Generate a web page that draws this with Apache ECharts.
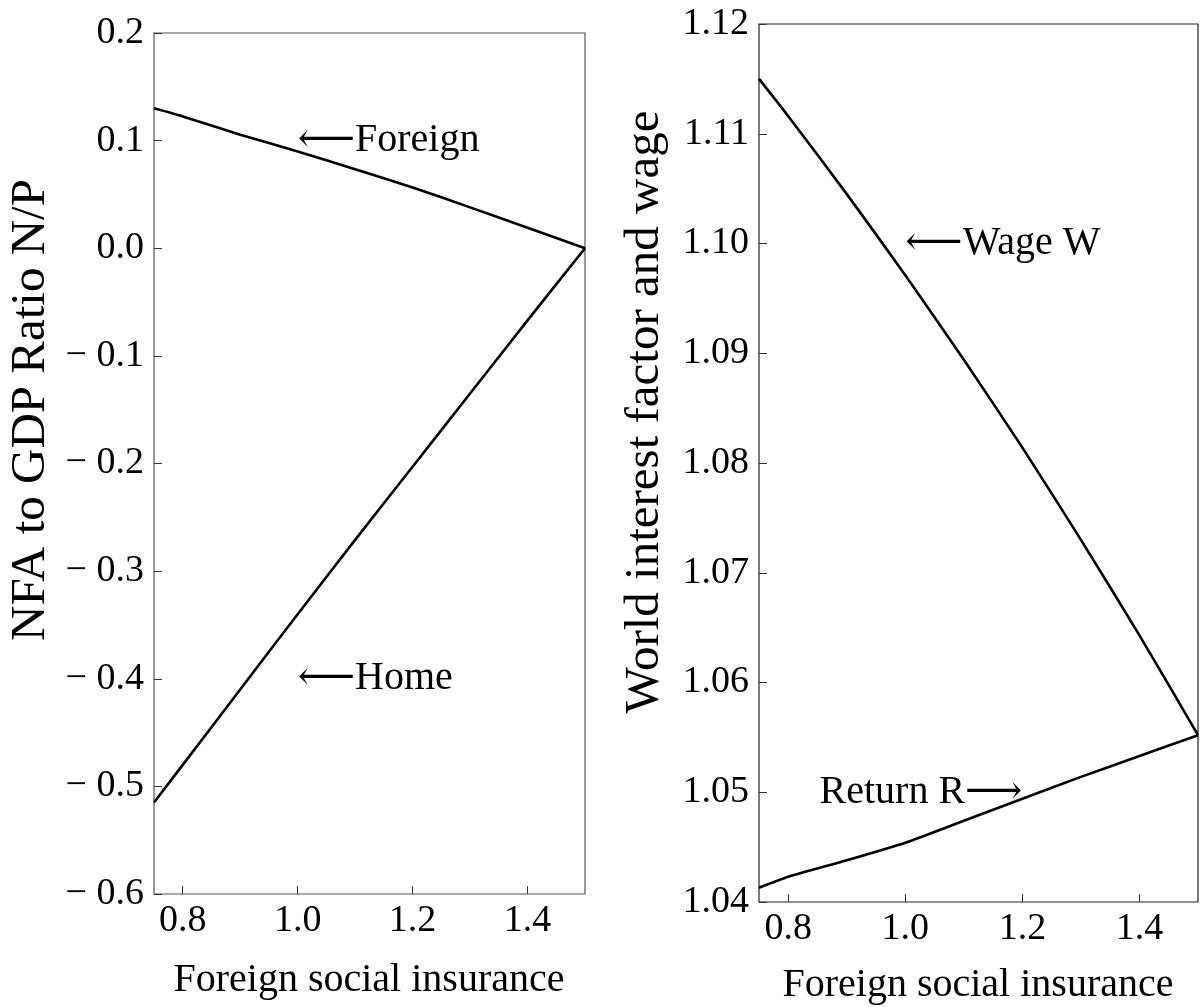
<!DOCTYPE html>
<html>
<head>
<meta charset="utf-8">
<script src="https://cdn.jsdelivr.net/npm/echarts@6/dist/echarts.min.js"></script>
<style>
html,body{margin:0;padding:0;background:#fff;}
#c{width:1200px;height:1007px;}
</style>
</head>
<body>
<div id="c"></div>
<script>
// ---- data ----
var xValues = [0.75, 0.8, 0.9, 1.0, 1.1, 1.2, 1.3, 1.4, 1.5];
var foreignNFA = [0.130, 0.1225, 0.1055, 0.090, 0.0735, 0.0565, 0.038, 0.019, 0.0];
var homeNFA = [-0.515, -0.480, -0.410, -0.340, -0.271, -0.203, -0.135, -0.067, 0.0];
var wageW = [1.1150, 1.1116, 1.1045, 1.0971, 1.0894, 1.0814, 1.0730, 1.0643, 1.0552];
var returnR = [1.0413, 1.0423, 1.0438, 1.0454, 1.0474, 1.0494, 1.0514, 1.0533, 1.0552];
var xTicks = [0.8, 1.0, 1.2, 1.4];
var leftYTicks = [-0.6, -0.5, -0.4, -0.3, -0.2, -0.1, 0.0, 0.1, 0.2];
var rightYTicks = [1.04, 1.05, 1.06, 1.07, 1.08, 1.09, 1.10, 1.11, 1.12];
var xTitle = 'Foreign social insurance';
var leftYTitle = 'NFA to GDP Ratio N/P';
var rightYTitle = 'World interest factor and wage';
var annotations = [
  {panel: 0, text: '\u27F5Foreign', x: 1.0, y: 0.1, side: 'right'},
  {panel: 0, text: '\u27F5Home', x: 1.0, y: -0.4, side: 'right'},
  {panel: 1, text: '\u27F5Wage W', x: 1.0, y: 1.10, side: 'right'},
  {panel: 1, text: 'Return R\u27F6', x: 1.2, y: 1.05, side: 'left'}
];

var FONT = '"Liberation Serif", "Times New Roman", "DejaVu Serif", serif';
var FS = 38;
var FS_XT = 40;
var FS_YT = 49;
var FS_ANN = 40;
function pairs(xs, ys){ return xs.map(function(x,i){ return [x, ys[i]]; }); }
function fmtMinus(v, d){
  var s = Math.abs(v).toFixed(d);
  return (v < -1e-9 ? '\u2212 ' : '') + s;
}

var chart = echarts.init(document.getElementById('c'), null, {renderer:'canvas'});

function xAxisCfg(gi){
  return {
    gridIndex: gi, type: 'value', min: 0.75, max: 1.5,
    axisLine: {show: false, onZero: false},
    splitLine: {show: false},
    axisTick: {show: true, inside: true, length: 8, customValues: xTicks, lineStyle:{color:'#333', width:1}},
    axisLabel: {show: true, customValues: xTicks, fontFamily: FONT, fontSize: FS, color: '#000', margin: 8,
      formatter: function(v){ return v.toFixed(1); }}
  };
}
function yAxisCfg(gi, min, max, ticks, dec){
  return {
    gridIndex: gi, type: 'value', min: min, max: max,
    axisLine: {show: false, onZero: false},
    splitLine: {show: false},
    axisTick: {show: true, inside: true, length: 8, customValues: ticks, lineStyle:{color:'#333', width:1}},
    axisLabel: {show: true, customValues: ticks, fontFamily: FONT, fontSize: FS, color: '#000', margin: 10,
      formatter: function(v){ return fmtMinus(v, dec); }}
  };
}

function annSeries(panel){
  return annotations.filter(function(a){return a.panel===panel;}).map(function(a){
    return {
      type: 'scatter', xAxisIndex: panel, yAxisIndex: panel, silent: true,
      symbolSize: 0, itemStyle: {opacity: 1}, data: [[a.x, a.y]],
      label: {show: true, position: a.side, distance: 0, formatter: a.text,
        fontFamily: FONT, fontSize: FS_ANN, color: '#000', opacity: 1},
      z: 5
    };
  });
}

var lineStyle = {color: '#000', width: 2.6};
var option = {
  animation: false,
  backgroundColor: '#fff',
  grid: [
    {left: 154, top: 33, width: 431, height: 861, show: true, borderColor: '#555', borderWidth: 1.2, backgroundColor: 'transparent'},
    {left: 759, top: 24, width: 439, height: 878, show: true, borderColor: '#222', borderWidth: 1.2, backgroundColor: 'transparent'}
  ],
  xAxis: [xAxisCfg(0), xAxisCfg(1)],
  yAxis: [yAxisCfg(0, -0.6, 0.2, leftYTicks, 1), yAxisCfg(1, 1.04, 1.12, rightYTicks, 2)],
  graphic: [
    {type:'text', x: 369, y: 980, style:{text: xTitle, font: FS_XT + 'px ' + FONT, fill:'#000', align:'center', verticalAlign:'middle'}},
    {type:'text', x: 978, y: 985, style:{text: xTitle, font: FS_XT + 'px ' + FONT, fill:'#000', align:'center', verticalAlign:'middle'}},
    {type:'text', x: 31, y: 410, rotation: Math.PI/2, style:{text: leftYTitle, font: FS_YT + 'px ' + FONT, fill:'#000', align:'center', verticalAlign:'middle'}},
    {type:'text', x: 645, y: 412, rotation: Math.PI/2, style:{text: rightYTitle, font: FS_YT + 'px ' + FONT, fill:'#000', align:'center', verticalAlign:'middle'}}
  ],
  series: [
    {type:'line', xAxisIndex:0, yAxisIndex:0, data: pairs(xValues, foreignNFA), showSymbol:false, smooth:0.2, lineStyle: lineStyle, clip:false},
    {type:'line', xAxisIndex:0, yAxisIndex:0, data: pairs(xValues, homeNFA), showSymbol:false, smooth:0.2, lineStyle: lineStyle, clip:false},
    {type:'line', xAxisIndex:1, yAxisIndex:1, data: pairs(xValues, wageW), showSymbol:false, smooth:0.2, lineStyle: lineStyle, clip:false},
    {type:'line', xAxisIndex:1, yAxisIndex:1, data: pairs(xValues, returnR), showSymbol:false, smooth:0.2, lineStyle: lineStyle, clip:false}
  ].concat(annSeries(0)).concat(annSeries(1))
};
chart.setOption(option);
</script>
</body>
</html>
